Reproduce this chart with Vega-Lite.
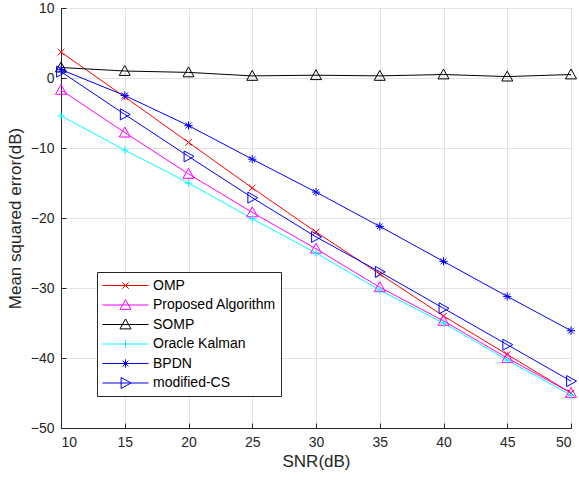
{
  "$schema": "https://vega.github.io/schema/vega-lite/v6.json",
  "width": 510,
  "height": 420,
  "autosize": {"type": "none"},
  "padding": {"left": 61, "top": 8, "right": 8, "bottom": 59},
  "background": "white",
  "config": {
    "view": {"stroke": "#262626", "strokeWidth": 1},
    "font": "Liberation Sans",
    "axis": {
      "domainColor": "#262626",
      "tickColor": "#262626",
      "labelColor": "#262626",
      "titleColor": "#262626",
      "labelFont": "Liberation Sans",
      "titleFont": "Liberation Sans",
      "labelFontSize": 14,
      "titleFontSize": 17,
      "titleFontWeight": "normal",
      "gridColor": "#e3e3e3",
      "gridWidth": 1,
      "tickSize": -5,
      "labelPadding": 12
    }
  },
  "data": {
    "values": [
      {"snr": 10, "series": "OMP", "mse": 3.7},
      {"snr": 15, "series": "OMP", "mse": -2.7},
      {"snr": 20, "series": "OMP", "mse": -9.2},
      {"snr": 25, "series": "OMP", "mse": -15.7},
      {"snr": 30, "series": "OMP", "mse": -22.0},
      {"snr": 35, "series": "OMP", "mse": -28.0},
      {"snr": 40, "series": "OMP", "mse": -34.0},
      {"snr": 45, "series": "OMP", "mse": -39.5},
      {"snr": 50, "series": "OMP", "mse": -45.0},
      {"snr": 10, "series": "Proposed Algorithm", "mse": -1.7},
      {"snr": 15, "series": "Proposed Algorithm", "mse": -7.8},
      {"snr": 20, "series": "Proposed Algorithm", "mse": -13.7},
      {"snr": 25, "series": "Proposed Algorithm", "mse": -19.2},
      {"snr": 30, "series": "Proposed Algorithm", "mse": -24.4},
      {"snr": 35, "series": "Proposed Algorithm", "mse": -29.9},
      {"snr": 40, "series": "Proposed Algorithm", "mse": -34.7},
      {"snr": 45, "series": "Proposed Algorithm", "mse": -40.0},
      {"snr": 50, "series": "Proposed Algorithm", "mse": -45.0},
      {"snr": 10, "series": "SOMP", "mse": 1.5},
      {"snr": 15, "series": "SOMP", "mse": 1.0},
      {"snr": 20, "series": "SOMP", "mse": 0.8},
      {"snr": 25, "series": "SOMP", "mse": 0.3},
      {"snr": 30, "series": "SOMP", "mse": 0.4},
      {"snr": 35, "series": "SOMP", "mse": 0.3},
      {"snr": 40, "series": "SOMP", "mse": 0.5},
      {"snr": 45, "series": "SOMP", "mse": 0.2},
      {"snr": 50, "series": "SOMP", "mse": 0.5},
      {"snr": 10, "series": "Oracle Kalman", "mse": -5.4},
      {"snr": 15, "series": "Oracle Kalman", "mse": -10.3},
      {"snr": 20, "series": "Oracle Kalman", "mse": -15.0},
      {"snr": 25, "series": "Oracle Kalman", "mse": -20.1},
      {"snr": 30, "series": "Oracle Kalman", "mse": -25.0},
      {"snr": 35, "series": "Oracle Kalman", "mse": -30.3},
      {"snr": 40, "series": "Oracle Kalman", "mse": -35.0},
      {"snr": 45, "series": "Oracle Kalman", "mse": -40.3},
      {"snr": 50, "series": "Oracle Kalman", "mse": -45.3},
      {"snr": 10, "series": "BPDN", "mse": 1.2},
      {"snr": 15, "series": "BPDN", "mse": -2.5},
      {"snr": 20, "series": "BPDN", "mse": -6.8},
      {"snr": 25, "series": "BPDN", "mse": -11.6},
      {"snr": 30, "series": "BPDN", "mse": -16.3},
      {"snr": 35, "series": "BPDN", "mse": -21.2},
      {"snr": 40, "series": "BPDN", "mse": -26.2},
      {"snr": 45, "series": "BPDN", "mse": -31.2},
      {"snr": 50, "series": "BPDN", "mse": -36.1},
      {"snr": 10, "series": "modified-CS", "mse": 0.9},
      {"snr": 15, "series": "modified-CS", "mse": -5.2},
      {"snr": 20, "series": "modified-CS", "mse": -11.2},
      {"snr": 25, "series": "modified-CS", "mse": -17.1},
      {"snr": 30, "series": "modified-CS", "mse": -22.7},
      {"snr": 35, "series": "modified-CS", "mse": -27.7},
      {"snr": 40, "series": "modified-CS", "mse": -32.9},
      {"snr": 45, "series": "modified-CS", "mse": -38.1},
      {"snr": 50, "series": "modified-CS", "mse": -43.3}
    ]
  },
  "encoding": {
    "x": {
      "field": "snr", "type": "quantitative",
      "scale": {"domain": [10, 50], "nice": false, "zero": false},
      "axis": {"values": [10, 15, 20, 25, 30, 35, 40, 45, 50], "title": "SNR(dB)", "titlePadding": 4}
    },
    "y": {
      "field": "mse", "type": "quantitative",
      "scale": {"domain": [-50, 10], "nice": false, "zero": false},
      "axis": {"values": [-50, -40, -30, -20, -10, 0, 10], "title": "Mean squared error(dB)", "titlePadding": 6}
    },
    "color": {
      "field": "series", "type": "nominal",
      "scale": {
        "domain": ["OMP", "Proposed Algorithm", "SOMP", "Oracle Kalman", "BPDN", "modified-CS"],
        "range": ["#ff0000", "#ff00ff", "#000000", "#00ffff", "#0000ff", "#0000ff"]
      },
      "legend": null
    }
  },
  "layer": [
    {
      "mark": {"type": "line", "strokeWidth": 1},
      "encoding": {
        "color": {
          "field": "series", "type": "nominal",
          "legend": {
            "title": null,
            "orient": "none",
            "legendX": 36,
            "legendY": 264,
            "padding": 5,
            "fillColor": "white",
            "strokeColor": "#262626",
            "cornerRadius": 0,
            "labelFont": "Liberation Sans",
            "labelFontSize": 14,
            "labelColor": "#000000",
            "labelOffset": 19,
            "symbolOffset": 15,
            "symbolSize": 256,
            "symbolStrokeWidth": 1,
            "rowPadding": 3.5,
            "encode": {
              "symbols": {
                "update": {
                  "fill": {"value": "transparent"},
                  "stroke": {"signal": "datum.value === 'OMP' ? '#ff0000' : datum.value === 'Proposed Algorithm' ? '#ff00ff' : datum.value === 'SOMP' ? '#000000' : datum.value === 'Oracle Kalman' ? '#00ffff' : '#0000ff'"},
                  "shape": {"signal": "datum.value === 'OMP' ? 'M-2.875,0L2.875,0M-0.41,-0.41L0.41,0.41M-0.41,0.41L0.41,-0.41' : datum.value === 'Proposed Algorithm' || datum.value === 'SOMP' ? 'M-2.875,0L2.875,0M0,-0.69L0.69,0.55L-0.69,0.55Z' : datum.value === 'Oracle Kalman' ? 'M-2.875,0L2.875,0M0,-0.47L0,0.47' : datum.value === 'BPDN' ? 'M-2.875,0L2.875,0M0,-0.52L0,0.52M-0.36,-0.36L0.36,0.36M-0.36,0.36L0.36,-0.36' : 'M-2.875,0L2.875,0M-0.55,-0.69L0.69,0L-0.55,0.69Z'"}
                }
              }
            }
          }
        }
      }
    },
    {
      "transform": [{"filter": "datum.series === 'OMP'"}],
      "mark": {"type": "point", "filled": false, "strokeWidth": 1, "size": 121, "opacity": 1, "shape": "M-0.6,-0.6L0.6,0.6M-0.6,0.6L0.6,-0.6"}
    },
    {
      "transform": [{"filter": "datum.series === 'Proposed Algorithm' || datum.series === 'SOMP'"}],
      "mark": {"type": "point", "filled": false, "strokeWidth": 1, "size": 121, "opacity": 1, "shape": "M0,-1L1,0.8L-1,0.8Z"}
    },
    {
      "transform": [{"filter": "datum.series === 'Oracle Kalman'"}],
      "mark": {"type": "point", "filled": false, "strokeWidth": 1, "size": 121, "opacity": 1, "shape": "M-0.68,0L0.68,0M0,-0.68L0,0.68"}
    },
    {
      "transform": [{"filter": "datum.series === 'BPDN'"}],
      "mark": {"type": "point", "filled": false, "strokeWidth": 1, "size": 121, "opacity": 1, "shape": "M-0.75,0L0.75,0M0,-0.75L0,0.75M-0.53,-0.53L0.53,0.53M-0.53,0.53L0.53,-0.53"}
    },
    {
      "transform": [{"filter": "datum.series === 'modified-CS'"}],
      "mark": {"type": "point", "filled": false, "strokeWidth": 1, "size": 121, "opacity": 1, "shape": "M-0.8,-1L1,0L-0.8,1Z"}
    }
  ]
}
